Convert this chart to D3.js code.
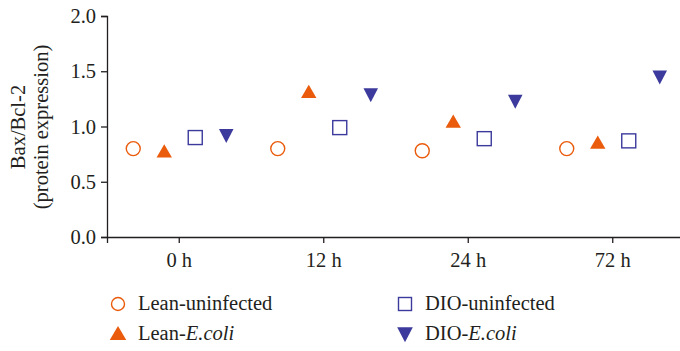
<!DOCTYPE html>
<html>
<head>
<meta charset="utf-8">
<script src="https://cdn.jsdelivr.net/npm/d3@7"></script>
<style>
  body { margin: 0; background: #fff; }
  text { font-family: "Liberation Serif", "DejaVu Serif", serif; fill: #231f20; }
</style>
</head>
<body>
<svg id="chart" width="680" height="351"></svg>
<script>
// categories and series
var timepoints = ["0 h", "12 h", "24 h", "72 h"];
var groups = ["Lean-uninfected", "Lean-E.coli", "DIO-uninfected", "DIO-E.coli"];
var leanUninfected = [0.80, 0.80, 0.78, 0.80];
var leanEcoli = [0.77, 1.31, 1.04, 0.85];
var dioUninfected = [0.90, 0.99, 0.89, 0.87];
var dioEcoli = [0.92, 1.29, 1.23, 1.45];
var yTicks = [0, 0.5, 1.0, 1.5, 2.0];

var orange = "#ea5b0c";
var blue = "#3c3a9c";
var fontSize = "20.5px";

var series = [
  { name: groups[0], values: leanUninfected, shape: "circle" },
  { name: groups[1], values: leanEcoli, shape: "up" },
  { name: groups[2], values: dioUninfected, shape: "square" },
  { name: groups[3], values: dioEcoli, shape: "down" }
];

var svg = d3.select("#chart");

var x = d3.scaleBand().domain(timepoints).range([107, 685]);
var offset = d3.scalePoint().domain(groups).range([-46, 47]);
var y = d3.scaleLinear().domain([0, 2]).range([237, 16]);

// draws one marker shape centred at 0,0
function marker(g, shape, size) {
  var s = size;
  if (shape == "circle") {
    g.append("circle").attr("r", s * 0.5)
      .attr("fill", "#fff").attr("stroke", orange).attr("stroke-width", 1.4);
  } else if (shape == "square") {
    g.append("rect").attr("x", -s / 2).attr("y", -s / 2)
      .attr("width", s).attr("height", s)
      .attr("fill", "#fff").attr("stroke", blue).attr("stroke-width", 1.4);
  } else if (shape == "up") {
    var h = s * 0.9;
    g.append("path")
      .attr("d", "M0," + (-h * 0.6) + "L" + (s * 0.55) + "," + (h * 0.45) + "L" + (-s * 0.55) + "," + (h * 0.45) + "Z")
      .attr("fill", orange);
  } else {
    var h2 = s;
    g.append("path")
      .attr("d", "M0," + (h2 * 0.55) + "L" + (s * 0.52) + "," + (-h2 * 0.45) + "L" + (-s * 0.52) + "," + (-h2 * 0.45) + "Z")
      .attr("fill", blue);
  }
}

// axes
var yAxis = d3.axisLeft(y).tickValues(yTicks).tickFormat(d3.format(".1f")).tickSizeOuter(0).tickSize(6).tickPadding(5);
var gy = svg.append("g").attr("transform", "translate(107,0)").call(yAxis);
gy.selectAll("text").style("font-size", fontSize).attr("font-family", null);

var xAxis = d3.axisBottom(x).tickSizeOuter(0).tickSize(6).tickPadding(9);
var gx = svg.append("g").attr("transform", "translate(0,237)").call(xAxis);
gx.selectAll("text").style("font-size", fontSize).attr("font-family", null);

svg.selectAll(".domain, .tick line").attr("stroke", "#231f20").attr("stroke-width", 1.3);

// y label
var ylab = svg.append("text")
  .attr("transform", "translate(0,127) rotate(-90)")
  .attr("text-anchor", "middle")
  .style("font-size", fontSize);
ylab.append("tspan").attr("x", 0).attr("y", 25).text("Bax/Bcl-2");
ylab.append("tspan").attr("x", 0).attr("y", 48).text("(protein expression)");

// points
series.forEach(function (s) {
  s.values.forEach(function (v, i) {
    var cx = x(timepoints[i]) + x.bandwidth() / 2 + offset(s.name);
    var g = svg.append("g").attr("transform", "translate(" + cx + "," + y(v) + ")");
    marker(g, s.shape, 14);
  });
});

// legend
var legendPos = [[118, 304], [118, 334], [405, 304], [405, 334]];
series.forEach(function (s, i) {
  var lg = svg.append("g").attr("transform", "translate(" + legendPos[i][0] + "," + legendPos[i][1] + ")");
  marker(lg, s.shape, s.shape == "circle" || s.shape == "square" ? 13 : 15);
  var t = lg.append("text").attr("x", 20).attr("y", 6).style("font-size", fontSize);
  var parts = s.name.split("-");
  t.append("tspan").text(parts[0] + "-");
  if (parts[1] == "E.coli") {
    t.append("tspan").style("font-style", "italic").text(parts[1]);
  } else {
    t.append("tspan").text(parts[1]);
  }
});
</script>
</body>
</html>
